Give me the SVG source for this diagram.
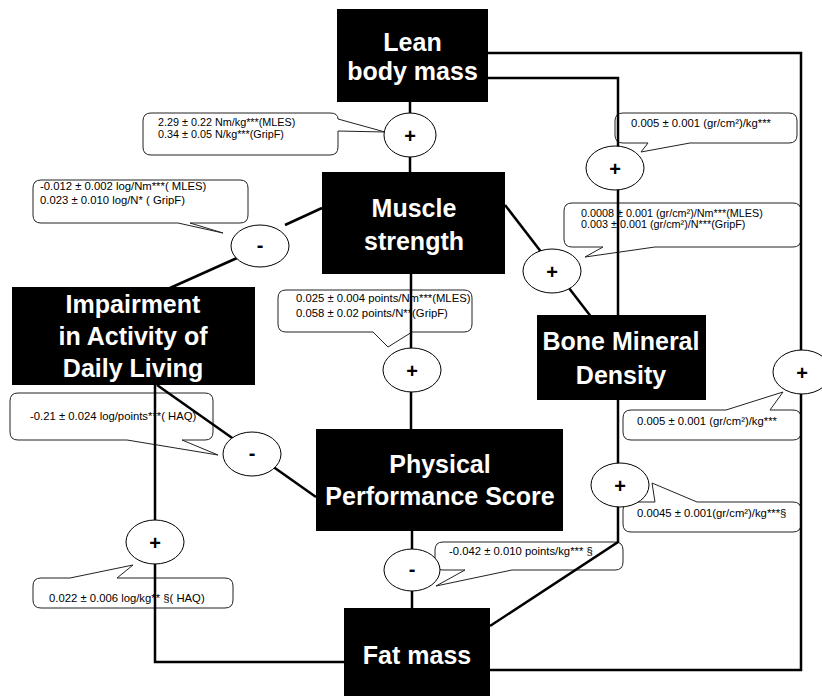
<svg xmlns="http://www.w3.org/2000/svg" width="822" height="696" viewBox="0 0 822 696">
<style>
.box{fill:#000}
.nt{fill:#fff;font-family:"Liberation Sans",Arial,sans-serif;font-weight:bold;font-size:25px;text-anchor:middle}
.ln{fill:none;stroke:#000;stroke-width:2.5}
.sig{fill:#fff;stroke:#000;stroke-width:1}
.st{font-family:"Liberation Sans",Arial,sans-serif;font-weight:bold;font-size:20px;text-anchor:middle;fill:#000}
.co{fill:#fff;stroke:#222;stroke-width:1}
.ct{font-family:"Liberation Sans",Arial,sans-serif;font-size:11.3px;fill:#000}
.cs{font-size:10.8px}
</style>
<rect width="822" height="696" fill="#fff"/>
<g id="callouts">
<g id="c-lean-muscle"><path class="co" d="M151,113 H330 Q338,113 338,119 L385,132 L338,131 V147 Q338,155 330,155 H151 Q143,155 143,147 V121 Q143,113 151,113 Z"/>
<text class="ct cs" x="158" y="126">2.29 ± 0.22 Nm/kg***(MLES)</text><text class="ct cs" x="158" y="137.5">0.34 ± 0.05 N/kg***(GripF)</text></g>
<g id="c-muscle-adl"><path class="co" d="M41,180 H240 Q248,180 248,188 V215 Q248,223 240,223 H190 L223,233 L178,223 H41 Q33,223 33,215 V188 Q33,180 41,180 Z"/>
<text class="ct" x="40" y="190">-0.012 ± 0.002 log/Nm***( MLES)</text><text class="ct" x="40" y="204">0.023 ± 0.010 log/N* ( GripF)</text></g>
<g id="c-lean-bmd"><path class="co" d="M623,113 H789 Q797,113 797,121 V135 Q797,143 789,143 H690 L641,152 L648,143 H623 Q615,143 615,135 V121 Q615,113 623,113 Z"/>
<text class="ct" x="631" y="127">0.005 ± 0.001 (gr/cm²)/kg***</text></g>
<g id="c-muscle-bmd"><path class="co" d="M572,203 H793 Q801,203 801,211 V239 Q801,247 793,247 H655 L585,257 L603,247 H572 Q564,247 564,239 V211 Q564,203 572,203 Z"/>
<text class="ct cs" x="581" y="216.5">0.0008 ± 0.001 (gr/cm²)/Nm***(MLES)</text><text class="ct cs" x="581" y="228">0.003 ± 0.001 (gr/cm²)/N***(GripF)</text></g>
<g id="c-muscle-pps"><path class="co" d="M286,290 H464 Q472,290 472,298 V324 Q472,332 464,332 H412 L388,347 L373,332 H286 Q278,332 278,324 V298 Q278,290 286,290 Z"/>
<text class="ct" x="296" y="302">0.025 ± 0.004 points/Nm***(MLES)</text><text class="ct" x="296" y="317">0.058 ± 0.02 points/N**(GripF)</text></g>
<g id="c-adl-pps"><path class="co" d="M18,393 H205 Q213,393 213,401 V432 Q213,440 205,440 H182 L218,455 L127,440 H18 Q10,440 10,432 V401 Q10,393 18,393 Z"/>
<text class="ct" x="30" y="420">-0.21 ± 0.024 log/points***( HAQ)</text></g>
<g id="c-lean-fat"><path class="co" d="M631,410 H726 L783,392 L770,410 H793 Q801,410 801,418 V432 Q801,440 793,440 H631 Q623,440 623,432 V418 Q623,410 631,410 Z"/>
<text class="ct" x="637" y="425">0.005 ± 0.001 (gr/cm²)/kg***</text></g>
<g id="c-fat-bmd"><path class="co" d="M631,502 H655 L652,483 L697,502 H793 Q801,502 801,510 V524 Q801,532 793,532 H631 Q623,532 623,524 V510 Q623,502 631,502 Z"/>
<text class="ct" x="637" y="517">0.0045 ± 0.001(gr/cm²)/kg***§</text></g>
<g id="c-fat-adl"><path class="co" d="M41,578 H70 L133,565 L117,578 H225 Q233,578 233,586 V600 Q233,608 225,608 H41 Q33,608 33,600 V586 Q33,578 41,578 Z"/>
<text class="ct" x="49" y="602">0.022 ± 0.006 log/kg** §( HAQ)</text></g>
<g id="c-fat-pps"><path class="co" d="M443,542 H615 Q623,542 623,550 V562 Q623,570 615,570 H512 L436,586 L465,570 H443 Q435,570 435,562 V550 Q435,542 443,542 Z"/>
<text class="ct" x="449" y="555">-0.042 ± 0.010 points/kg*** §</text></g>
</g>
<g id="connectors">
<path class="ln" d="M410,102 V172"/>
<path class="ln" d="M322,208 L285,225 M237,258 L170,288"/>
<path class="ln" d="M505,205 L592,318"/>
<path class="ln" d="M411,274 V429"/>
<path class="ln" d="M157,385 L316,497"/>
<path class="ln" d="M155,385 V662 H344"/>
<path class="ln" d="M412,531 V608"/>
<path class="ln" d="M488,78 H618 V542 L490,626"/>
<path class="ln" d="M488,53 H801 V670 H490"/>
</g>
<g id="signs">
<g id="s-lean-muscle"><ellipse class="sig" cx="410" cy="135" rx="26" ry="22"/><text class="st" x="410" y="143">+</text></g>
<g id="s-muscle-adl"><ellipse class="sig" cx="260" cy="246" rx="29" ry="21"/><text class="st" x="260" y="252">-</text></g>
<g id="s-lean-bmd"><ellipse class="sig" cx="615" cy="168" rx="29" ry="22"/><text class="st" x="615" y="176">+</text></g>
<g id="s-muscle-bmd"><ellipse class="sig" cx="552" cy="271" rx="29" ry="22"/><text class="st" x="552" y="279">+</text></g>
<g id="s-muscle-pps"><ellipse class="sig" cx="412" cy="370" rx="29" ry="22"/><text class="st" x="412" y="378">+</text></g>
<g id="s-adl-pps"><ellipse class="sig" cx="252" cy="454" rx="29" ry="22"/><text class="st" x="252" y="460">-</text></g>
<g id="s-lean-fat"><ellipse class="sig" cx="802" cy="372" rx="29" ry="22"/><text class="st" x="802" y="380">+</text></g>
<g id="s-fat-bmd"><ellipse class="sig" cx="620" cy="485" rx="29" ry="22"/><text class="st" x="620" y="493">+</text></g>
<g id="s-fat-adl"><ellipse class="sig" cx="155" cy="542" rx="29" ry="22"/><text class="st" x="155" y="550">+</text></g>
<g id="s-fat-pps"><ellipse class="sig" cx="412" cy="570" rx="28" ry="21"/><text class="st" x="412" y="576">-</text></g>
</g>
<g id="lean"><rect class="box" x="337" y="9" width="151" height="93"/><text class="nt" x="412.5" y="51">Lean</text><text class="nt" x="412.5" y="80">body mass</text></g>
<g id="muscle"><rect class="box" x="322" y="172" width="183" height="102"/><text class="nt" x="414" y="217">Muscle</text><text class="nt" x="414" y="250">strength</text></g>
<g id="adl"><rect class="box" x="12" y="287" width="243" height="98"/><text class="nt" x="133" y="313">Impairment</text><text class="nt" x="133" y="345">in Activity of</text><text class="nt" x="133" y="377">Daily Living</text></g>
<g id="bmd"><rect class="box" x="537" y="315" width="169" height="85"/><text class="nt" x="621" y="350">Bone Mineral</text><text class="nt" x="621" y="384">Density</text></g>
<g id="pps"><rect class="box" x="316" y="429" width="247" height="102"/><text class="nt" x="440" y="473">Physical</text><text class="nt" x="440" y="505">Performance Score</text></g>
<g id="fat"><rect class="box" x="344" y="608" width="146" height="92"/><text class="nt" x="417" y="664">Fat mass</text></g>
</svg>
